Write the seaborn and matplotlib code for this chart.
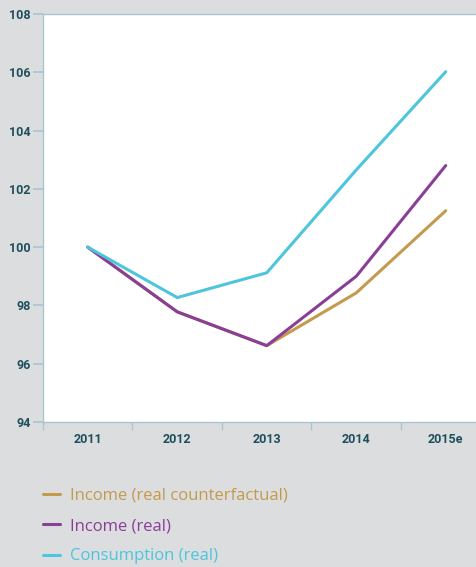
import matplotlib
matplotlib.use('Agg')
import matplotlib.pyplot as plt
import seaborn as sns
import pandas as pd

years = ['2011', '2012', '2013', '2014', '2015e']
income_counterfactual = [100.0, 97.78, 96.62, 98.43, 101.25]
income_real = [100.0, 97.78, 96.62, 99.0, 102.8]
consumption_real = [100.0, 98.27, 99.12, 102.65, 106.02]

series = ['Income (real counterfactual)', 'Income (real)', 'Consumption (real)']
colors = ['#C49A4C', '#8A3E97', '#4CC5DD']

df = pd.DataFrame({
    'year': list(range(len(years))) * 3,
    'value': income_counterfactual + income_real + consumption_real,
    'series': [series[0]] * 5 + [series[1]] * 5 + [series[2]] * 5,
})

sns.set_theme(style='white')
plt.rcParams['font.family'] = ['Roboto', 'DejaVu Sans']

bg = '#DCDDDF'
axis_col = '#A9C6CE'
label_col = '#1E4F5C'

fig = plt.figure(figsize=(4.77, 5.67), dpi=100)
fig.patch.set_facecolor(bg)
ax = fig.add_axes([43 / 477, 1 - 422 / 567, 434 / 477, (422 - 14) / 567])
ax.set_facecolor('white')

sns.lineplot(data=df, x='year', y='value', hue='series', hue_order=series,
             palette=colors, linewidth=2.2, ax=ax, legend=False)

ax.set_yticks(range(94, 109, 2))
ax.set_xticks(range(len(years)))
ax.set_xticklabels(years)
ax.set_xticks([i - 0.5 for i in range(len(years) + 1)], minor=True)
# limits after ticks, otherwise the minor ticks widen the view
ax.set_xlim(-0.5, -0.5 + 434 / 89.5)
ax.set_ylim(94, 108)
ax.set_xlabel('')
ax.set_ylabel('')

for s in ax.spines.values():
    s.set_color(axis_col)
    s.set_linewidth(1.0)
ax.spines['right'].set_visible(False)

ax.tick_params(axis='x', which='major', length=0, pad=8, labelsize=9,
               labelcolor=label_col)
ax.tick_params(axis='x', which='minor', length=6, direction='out',
               color=axis_col, bottom=True)
ax.tick_params(axis='y', which='major', length=7, direction='out',
               color=axis_col, left=True, pad=2, labelsize=9, labelcolor=label_col)
for lbl in ax.get_xticklabels() + ax.get_yticklabels():
    lbl.set_fontweight('bold')

# legend below the plot
handles = [plt.Line2D([], [], color=c, linewidth=2.2) for c in colors]
leg = fig.legend(handles, series, loc='upper left', bbox_to_anchor=(28 / 477, 1 - 473 / 567),
                 frameon=False, handlelength=1.0, handletextpad=0.6, labelspacing=0.85,
                 prop={'family': ['Open Sans', 'DejaVu Sans'], 'size': 12},
                 labelcolor='linecolor')

fig.savefig('out.png', dpi=100, facecolor=bg)
